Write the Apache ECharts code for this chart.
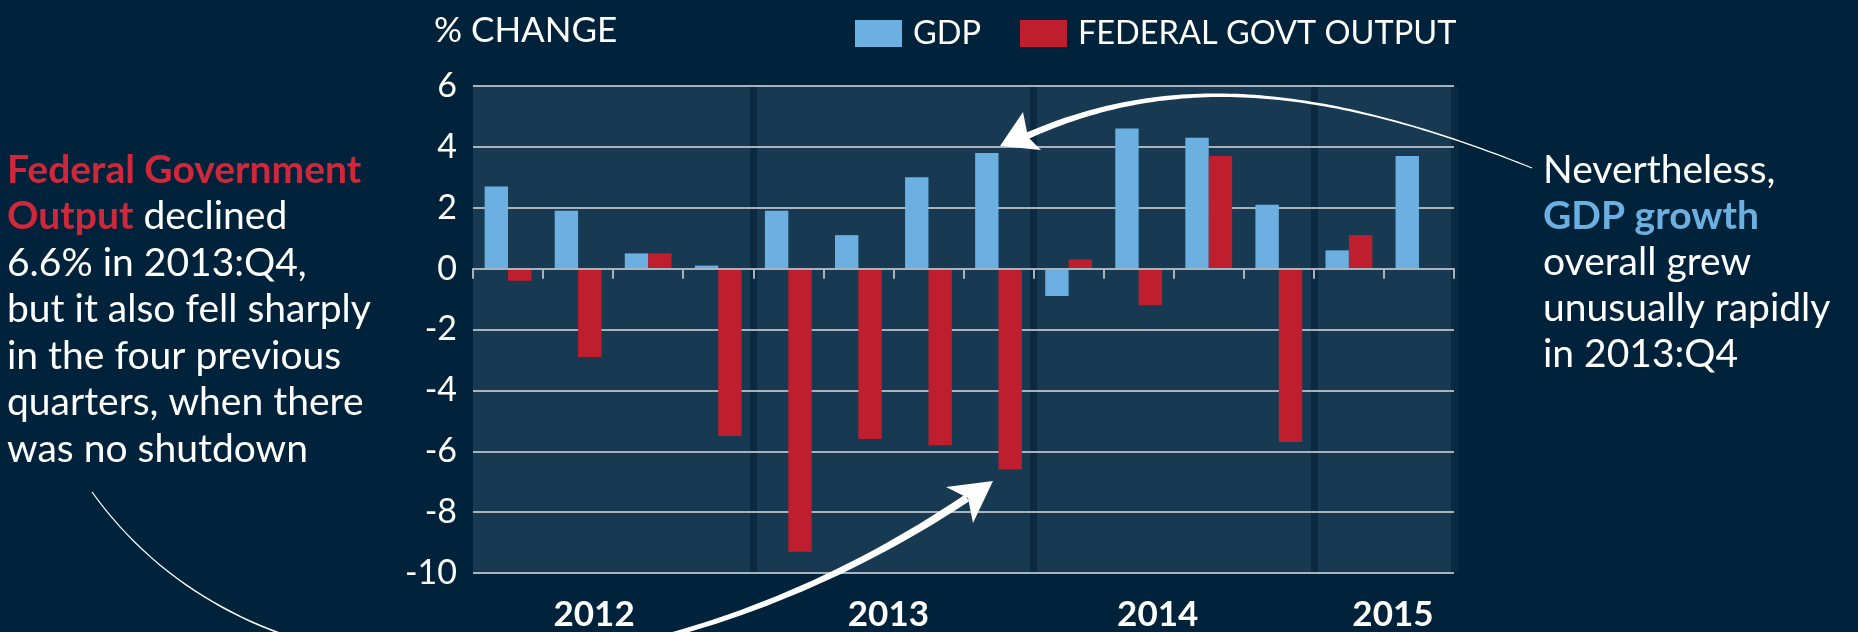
<!DOCTYPE html>
<html>
<head>
<meta charset="utf-8">
<script src="https://cdn.jsdelivr.net/npm/echarts@6/dist/echarts.min.js"></script>
<style>
    html, body { margin: 0; padding: 0; background: #00233b; }
    #chart { width: 1858px; height: 632px; }
</style>
</head>
<body>
<div id="chart"></div>
<script>
// quarters on the x axis
const quarters = [
    "2012 Q1", "2012 Q2", "2012 Q3", "2012 Q4",
    "2013 Q1", "2013 Q2", "2013 Q3", "2013 Q4",
    "2014 Q1", "2014 Q2", "2014 Q3", "2014 Q4",
    "2015 Q1", "2015 Q2",
];
// % change, GDP
const gdp = [2.7, 1.9, 0.5, 0.1, 1.9, 1.1, 3.0, 3.8, -0.9, 4.6, 4.3, 2.1, 0.6, 3.7];
// % change, federal govt output
const federal = [-0.4, -2.9, 0.5, -5.5, -9.3, -5.6, -5.8, -6.6, 0.3, -1.2, 3.7, -5.7, 1.1, null];
// year labels under the axis
const years = ["2012", "2013", "2014", "2015"];
const yMin = -10;
const yMax = 6;
const yStep = 2;

const FONT = "Lato";
const GRID_LINE = "#a7b2bc";
const NOTE_SIZE = 39;

// horizontal nudge of each year label (px), the original is hand placed
const yearShift = [16, 30, 19, -26];
const yearRich = {};
yearShift.forEach((s, i) => {
    yearRich["y" + i] = {
        fontFamily: FONT,
        fontWeight: "bold",
        fontSize: 35,
        color: "#fff",
        padding: s >= 0 ? [0, 0, 0, 2 * s] : [0, -2 * s, 0, 0],
    };
});

// tapered cubic curve -> polygon points
function taper(p0, p1, p2, p3, w0, w1, k) {
    const left = [];
    const right = [];
    const n = 80;
    for (let i = 0; i <= n; i++) {
        const t = i / n;
        const mt = 1 - t;
        const x = mt * mt * mt * p0[0] + 3 * mt * mt * t * p1[0] + 3 * mt * t * t * p2[0] + t * t * t * p3[0];
        const y = mt * mt * mt * p0[1] + 3 * mt * mt * t * p1[1] + 3 * mt * t * t * p2[1] + t * t * t * p3[1];
        const dx = 3 * mt * mt * (p1[0] - p0[0]) + 6 * mt * t * (p2[0] - p1[0]) + 3 * t * t * (p3[0] - p2[0]);
        const dy = 3 * mt * mt * (p1[1] - p0[1]) + 6 * mt * t * (p2[1] - p1[1]) + 3 * t * t * (p3[1] - p2[1]);
        const len = Math.hypot(dx, dy) || 1;
        const w = (w0 + (w1 - w0) * Math.pow(t, k)) / 2;
        left.push([x - dy / len * w, y + dx / len * w]);
        right.push([x + dy / len * w, y - dx / len * w]);
    }
    return left.concat(right.reverse());
}

const chart = echarts.init(document.getElementById("chart"));

const option = {
    backgroundColor: "#00233b",
    animation: false,
    title: {
        text: "% CHANGE",
        left: 434,
        top: 13,
        padding: 0,
        textStyle: {
            fontFamily: FONT,
            fontWeight: "normal",
            fontSize: 35,
            color: "#fff",
        },
    },
    legend: {
        left: 855,
        top: 17,
        padding: 0,
        icon: "rect",
        itemWidth: 47,
        itemHeight: 27,
        itemGap: 39,
        textStyle: {
            fontFamily: FONT,
            fontSize: 32.5,
            color: "#fff",
            padding: [0, 0, 0, 6],
        },
        data: ["GDP", "FEDERAL GOVT OUTPUT"],
    },
    grid: {
        left: 473,
        right: 404,
        top: 86,
        bottom: 56,
        show: true,
        backgroundColor: "#173a52",
        borderWidth: 0,
        containLabel: false,
    },
    xAxis: [
        {
            // zero line with quarter ticks
            type: "category",
            data: quarters,
            z: 3,
            axisLine: {
                onZero: true,
                lineStyle: { color: GRID_LINE, width: 2 },
            },
            axisTick: {
                show: true,
                interval: 0,
                length: 10,
                lineStyle: { color: GRID_LINE, width: 2 },
            },
            axisLabel: { show: false },
            splitLine: { show: false },
        },
        {
            // year labels + year separators
            type: "category",
            data: quarters,
            position: "bottom",
            z: 0,
            axisLine: { show: false, onZero: false },
            axisTick: { show: false },
            splitLine: {
                show: true,
                interval: (i) => i > 0 && i < quarters.length && quarters[i].endsWith("Q1"),
                lineStyle: { color: "#0b2a42", width: 7 },
            },
            axisLabel: {
                interval: 0,
                margin: 24,
                formatter: (value) => {
                    const [yr, q] = value.split(" ");
                    const idx = years.indexOf(yr);
                    if (idx < 0 || q !== "Q2") return "";
                    return `{y${idx}|${yr}}`;
                },
                rich: yearRich,
            },
        },
    ],
    yAxis: {
        type: "value",
        min: yMin,
        max: yMax,
        interval: yStep,
        z: 1,
        axisLine: { show: false },
        axisTick: { show: false },
        axisLabel: {
            margin: 16,
            fontFamily: FONT,
            fontSize: 34,
            color: "#fff",
        },
        splitLine: {
            lineStyle: { color: GRID_LINE, width: 2 },
        },
    },
    series: [
        {
            name: "GDP",
            type: "bar",
            z: 2,
            barWidth: 23.4,
            barGap: "0%",
            itemStyle: { color: "#6bb0e1" },
            data: gdp,
        },
        {
            name: "FEDERAL GOVT OUTPUT",
            type: "bar",
            z: 2,
            barWidth: 23.4,
            barGap: "0%",
            itemStyle: { color: "#be1e2d" },
            data: federal,
        },
    ],
    graphic: [
        {
            type: "text",
            left: 7,
            top: 147,
            z: 10,
            style: {
                text: "{r|Federal Government}\n{r|Output} declined\n6.6% in 2013:Q4,\nbut it also fell sharply\nin the four previous\nquarters, when there\nwas no shutdown",
                fontFamily: FONT,
                fontSize: NOTE_SIZE,
                lineHeight: 46.5,
                fill: "#fff",
                rich: {
                    r: {
                        fontFamily: FONT,
                        fontWeight: "bold",
                        fontSize: NOTE_SIZE,
                        lineHeight: 46.5,
                        fill: "#d0283a",
                    },
                },
            },
        },
        {
            type: "text",
            left: 1543,
            top: 147,
            z: 10,
            style: {
                text: "Nevertheless,\n{b|GDP growth}\noverall grew\nunusually rapidly\nin 2013:Q4",
                fontFamily: FONT,
                fontSize: NOTE_SIZE,
                lineHeight: 46,
                fill: "#fff",
                rich: {
                    b: {
                        fontFamily: FONT,
                        fontWeight: "bold",
                        fontSize: NOTE_SIZE,
                        lineHeight: 46,
                        fill: "#6bb0e1",
                    },
                },
            },
        },
        {
            // arrow towards 2013:Q4 GDP
            type: "polygon",
            z: 10,
            shape: { points: taper([1532, 168], [1332, 88], [1177, 69], [1027, 136], 1.2, 6.5, 1.5) },
            style: { fill: "#fff" },
        },
        {
            type: "polygon",
            z: 10,
            shape: { points: [[1000, 146], [1023, 112], [1028, 137], [1041, 150]] },
            style: { fill: "#fff" },
        },
        {
            // arrow towards 2013:Q4 federal output
            type: "polygon",
            z: 10,
            shape: { points: taper([92, 492], [270, 740], [665, 700], [967, 498], 1.2, 8, 2) },
            style: { fill: "#fff" },
        },
        {
            type: "polygon",
            z: 10,
            shape: { points: [[993, 481], [946, 487], [968, 498], [973, 523]] },
            style: { fill: "#fff" },
        },
    ],
};

chart.setOption(option);
</script>
</body>
</html>
